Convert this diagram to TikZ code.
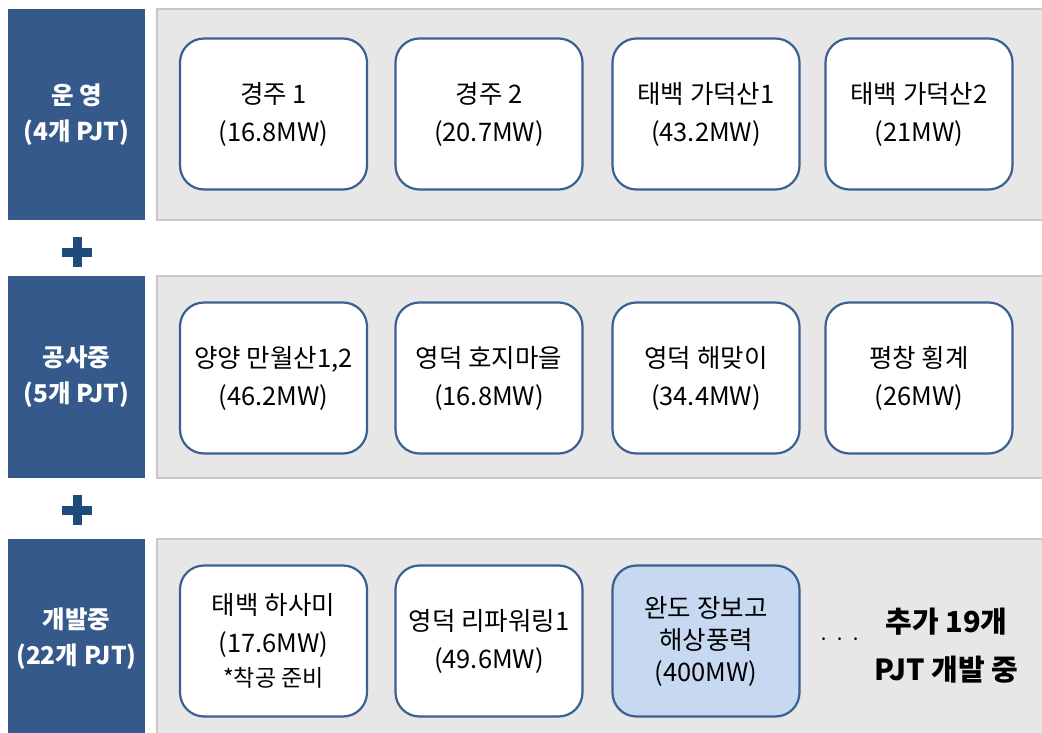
\documentclass[tikz,border=0pt]{standalone}
\usepackage{fontspec}
\setmainfont{Noto Sans CJK KR}
\usepackage{tikz}
\usetikzlibrary{positioning}
\definecolor{StageBlue}{HTML}{34598A}
\definecolor{PlusBlue}{HTML}{1F4A7C}
\definecolor{PanelGrey}{HTML}{E7E7E7}
\definecolor{PanelLine}{HTML}{C8C8C8}
\definecolor{CardLine}{HTML}{3A6091}
\definecolor{CardHigh}{HTML}{C7D9F0}

\begin{document}
\begin{tikzpicture}[x=1pt, y=-1pt,
    stage/.style={fill=StageBlue, text=white, font=\fontsize{24.5}{36}\selectfont\bfseries,
      align=center, minimum width=137pt, inner sep=0pt},
    panel/.style={fill=PanelGrey, draw=PanelLine, line width=1.2pt},
    card/.style={draw=CardLine, line width=2.2pt, fill=white, rounded corners=24pt,
      minimum width=187pt, minimum height=151pt, align=center, inner sep=2pt,
      font=\fontsize{25.5}{38}\selectfont},
    plus/.style={fill=PlusBlue}]
    \useasboundingbox (0,0) rectangle (1042,733);

    % Panels
    \draw[panel] (157,9) rectangle (1050,220);
    \draw[panel] (157,276) rectangle (1050,478);
    \draw[panel] (157,539) rectangle (1050,745);

    % Stages
    \node[stage, minimum height=211pt] (run) at (76.5,114.5) {운 영\\(4개 PJT)};
    \node[stage, minimum height=202pt] (build) at (76.5,377) {공사중\\(5개 PJT)};
    \node[stage, minimum height=200pt] (dev) at (76.5,639) {개발중\\(22개 PJT)};

    % Plus signs
    \foreach \y in {252,510} {
      \fill[plus] (62,\y-4.5) rectangle (92,\y+4.5);
      \fill[plus] (72.5,\y-15) rectangle (81.5,\y+15);
    }

    % Operating
    \node[card] (gj1) at (273.5,114) {경주 1\\(16.8MW)};
    \node[card] (gj2) at (489,114) {경주 2\\(20.7MW)};
    \node[card] (tb1) at (706,114) {태백 가덕산1\\(43.2MW)};
    \node[card] (tb2) at (919,114) {태백 가덕산2\\(21MW)};

    % Under construction
    \node[card] (yy) at (273.5,378) {양양 만월산1,2\\(46.2MW)};
    \node[card] (ydh) at (489,378) {영덕 호지마을\\(16.8MW)};
    \node[card] (ydm) at (706,378) {영덕 해맞이\\(34.4MW)};
    \node[card] (pc) at (919,378) {평창 횡계\\(26MW)};

    % In development
    \node[card] (tbh) at (273.5,641) {태백 하사미\\(17.6MW)\\[-4pt]\fontsize{23}{30}\selectfont *착공 준비};
    \node[card] (ydr) at (489,641) {영덕 리파워링1\\(49.6MW)};
    \node[card, fill=CardHigh, font=\fontsize{25.5}{32}\selectfont] (wd) at (706,641) {완도 장보고\\해상풍력\\(400MW)};
    \node[font=\fontsize{20}{20}\selectfont] (dots) at (840,642) {· · ·};
    \node[font=\fontsize{29}{48}\selectfont\bfseries, align=center, right=6pt of dots, yshift=-4pt] (more) {추가 19개\\PJT 개발 중};
\end{tikzpicture}
\end{document}
